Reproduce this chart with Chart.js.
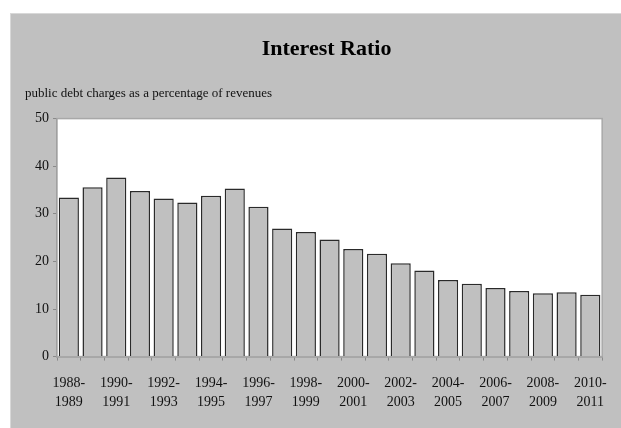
<!DOCTYPE html>
<html>
<head>
<meta charset="utf-8">
<script src="https://cdn.jsdelivr.net/npm/chart.js@4"></script>
<style>
  body { margin: 0; background: #ffffff; }
  #panel { position: absolute; left: 10px; top: 13px; width: 611px; height: 415px; background: #c0c0c0; border-top: 1px solid #d8d8d8; border-left: 1px solid #d8d8d8; box-sizing: border-box; }
</style>
</head>
<body>
<div id="panel"><canvas id="interest-chart" width="610" height="414"></canvas></div>
<script>
// fiscal years (x axis)
let years = ["1988-1989", "1989-1990", "1990-1991", "1991-1992", "1992-1993", "1993-1994",
  "1994-1995", "1995-1996", "1996-1997", "1997-1998", "1998-1999", "1999-2000",
  "2000-2001", "2001-2002", "2002-2003", "2003-2004", "2004-2005", "2005-2006",
  "2006-2007", "2007-2008", "2008-2009", "2009-2010", "2010-2011"]

// public debt charges as % of revenues
let ratio = [33.4, 35.6, 37.6, 34.8, 33.2, 32.4, 33.8, 35.3, 31.5, 26.9, 26.2, 24.6,
  22.6, 21.6, 19.6, 18.1, 16.1, 15.3, 14.4, 13.8, 13.3, 13.5, 13.0]

let y_ticks = [0, 10, 20, 30, 40, 50]

let chart_title = 'Interest Ratio'
let serif = "'Liberation Serif', 'Times New Roman', serif"

// white plot area with grey frame, title centred over the plot area
const plotFrame = {
  id: 'plotFrame',
  beforeDatasetsDraw(chart) {
    const a = chart.chartArea
    const ctx = chart.ctx
    ctx.save()
    ctx.fillStyle = '#ffffff'
    ctx.fillRect(a.left, a.top, a.right - a.left, a.bottom - a.top)
    ctx.strokeStyle = '#a8a8a8'
    ctx.lineWidth = 1.5
    ctx.strokeRect(a.left, a.top, a.right - a.left, a.bottom - a.top)
    ctx.restore()
  },
  afterDraw(chart) {
    const a = chart.chartArea
    const ctx = chart.ctx
    ctx.save()
    ctx.font = "bold 22px " + serif
    ctx.fillStyle = '#000'
    ctx.textAlign = 'center'
    ctx.textBaseline = 'middle'
    ctx.fillText(chart_title, (a.left + a.right) / 2 - 3, 35)
    ctx.restore()
  }
}

new Chart(document.getElementById("interest-chart"), {
  type: 'bar',
  data: {
    labels: years,
    datasets: [{
      data: ratio,
      backgroundColor: '#c0c0c0',
      borderColor: '#2a2a2a',
      borderWidth: 1.5,
      borderSkipped: 'bottom',
      barPercentage: 0.85,
      categoryPercentage: 1.0
    }]
  },
  options: {
    responsive: false,
    animation: false,
    layout: { padding: { left: 14, right: 17, top: 0, bottom: 3 } },
    plugins: {
      legend: { display: false },
      tooltip: { enabled: false },
      subtitle: {
        display: true,
        text: 'public debt charges as a percentage of revenues',
        align: 'start',
        color: '#111',
        font: { family: serif, size: 13 },
        padding: { top: 72, bottom: 17 }
      }
    },
    scales: {
      x: {
        grid: { display: true, drawOnChartArea: false, offset: true, tickLength: 4, color: '#8a8a8a' },
        border: { color: '#8a8a8a', width: 1.5 },
        ticks: {
          autoSkip: false,
          maxRotation: 0,
          color: '#111',
          padding: 14,
          font: { family: serif, size: 14, lineHeight: 1.3 },
          callback: function (v, i) {
            if (i % 2 != 0) return ''
            let parts = years[i].split('-')
            return [parts[0] + '-', parts[1]]
          }
        }
      },
      y: {
        min: 0,
        max: 50,
        afterFit: function (scale) { scale.width = 32 },
        afterBuildTicks: function (scale) { scale.ticks = y_ticks.map(v => ({ value: v })) },
        grid: { display: true, drawOnChartArea: false, tickLength: 4, color: '#8a8a8a' },
        border: { color: '#8a8a8a', width: 1.5 },
        ticks: { color: '#111', padding: 4, font: { family: serif, size: 14 } }
      }
    }
  },
  plugins: [plotFrame]
});
</script>
</body>
</html>
